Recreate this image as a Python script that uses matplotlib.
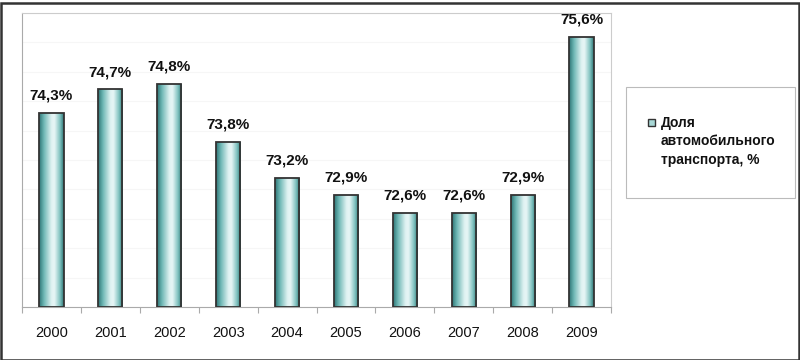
import numpy as np
import matplotlib
matplotlib.use("Agg")
import matplotlib.pyplot as plt
from matplotlib.colors import LinearSegmentedColormap
from matplotlib.patches import Rectangle

years = ["2000", "2001", "2002", "2003", "2004", "2005", "2006", "2007", "2008", "2009"]
values = [74.3, 74.7, 74.8, 73.8, 73.2, 72.9, 72.6, 72.6, 72.9, 75.6]
labels = ["74,3%", "74,7%", "74,8%", "73,8%", "73,2%", "72,9%", "72,6%", "72,6%", "72,9%", "75,6%"]
legend_label = "Доля\nавтомобильного\nтранспорта, %"

plt.rcParams['font.family'] = ['Liberation Sans', 'DejaVu Sans']

fig = plt.figure(figsize=(8, 3.6), dpi=100)
ax = fig.add_axes([22/800, 1-307/360, (611-22)/800, (307-13)/360])

ymin, ymax = 71.0, 76.0
x = np.arange(len(years))
bars = ax.bar(x, [v - ymin for v in values], bottom=ymin, width=0.41,
              facecolor='none', edgecolor='#333333', linewidth=1.3, zorder=3)

cmap = LinearSegmentedColormap.from_list("cyl", [
    (0.0, "#2c7474"), (0.2, "#6fb8b6"), (0.5, "#dff2f2"),
    (0.62, "#e8f6f6"), (0.85, "#7cc0be"), (1.0, "#2c7272")])
grad = np.linspace(0, 1, 256).reshape(1, -1)
for b in bars:
    x0, w = b.get_x(), b.get_width()
    im = ax.imshow(grad, cmap=cmap, aspect='auto',
                   extent=[x0, x0 + w, ymin, b.get_y() + b.get_height()],
                   zorder=2, interpolation='bicubic')
    im.set_clip_path(b)

for xi, v, lab in zip(x, values, labels):
    ax.annotate(lab, (xi, v), xytext=(0, 7.5), textcoords='offset points',
                ha='center', va='bottom', fontsize=11, fontweight='bold', color='#111111',
                annotation_clip=False)

ax.set_xlim(-0.5, len(years) - 0.5)
ax.set_ylim(ymin, ymax)
ax.set_yticks(np.arange(ymin, ymax + 0.01, 0.5))
ax.set_yticklabels([])
ax.tick_params(axis='y', length=0)
ax.yaxis.grid(True, color='#f6f6f6', linewidth=0.8, zorder=0)
ax.set_axisbelow(True)

ax.set_xticks(x)
ax.set_xticklabels(years, fontsize=10.5, color='#111111')
ax.set_xticks(np.arange(-0.5, len(years), 1), minor=True)
ax.tick_params(axis='x', which='major', length=0, pad=14)
ax.tick_params(axis='x', which='minor', length=4, color='#aaaaaa', width=0.8)

for s in ['top', 'right']:
    ax.spines[s].set_color('#cccccc')
    ax.spines[s].set_linewidth(0.8)
ax.spines['left'].set_color('#aaaaaa')
ax.spines['bottom'].set_color('#aaaaaa')

# legend box
fig.patches.append(Rectangle((626/800, 1-198/360), (795-626)/800, (198-87)/360,
                             transform=fig.transFigure, facecolor='white',
                             edgecolor='#bbbbbb', linewidth=0.8))
fig.patches.append(Rectangle((648/800, 1-126/360), 7/800, 7/360,
                             transform=fig.transFigure, facecolor='#a8d8d6',
                             edgecolor='#333333', linewidth=1.0))
fig.text(661/800, 1-116/360, legend_label, ha='left', va='top', fontsize=10,
         fontweight='bold', color='#111111', linespacing=1.4)

# outer frame
fig.patches.append(Rectangle((0.5/800, 0.5/360), 798/800, 357/360, transform=fig.transFigure,
                             facecolor='none', edgecolor='#333333', linewidth=1.8))

fig.savefig("out.png", dpi=100)
